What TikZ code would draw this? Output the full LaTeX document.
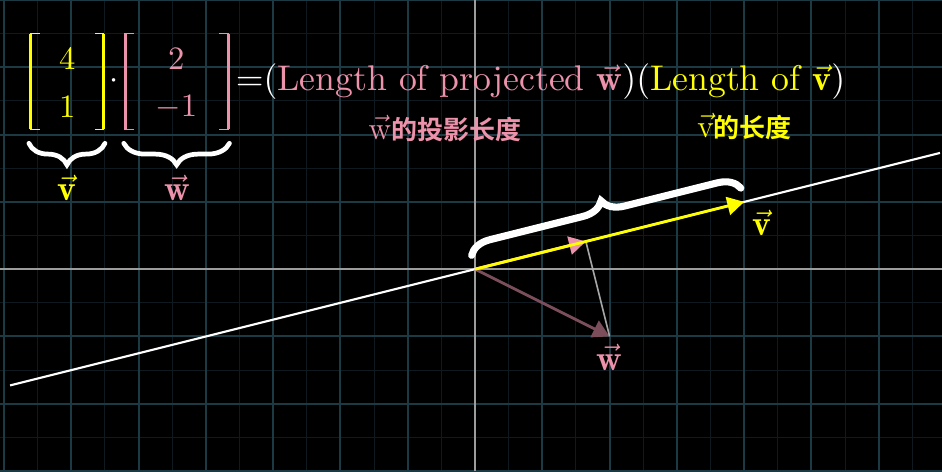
\documentclass[tikz,border=0pt]{standalone}
\usepackage{fontspec}
\usepackage{amsmath}
\usepackage{graphicx}
\usetikzlibrary{arrows.meta,decorations.pathreplacing}
\newfontfamily\cjk{Noto Sans CJK SC Bold}
\definecolor{vyellow}{HTML}{FFFF00}
\definecolor{wpink}{HTML}{EC92AB}
\definecolor{wfaded}{HTML}{7C4E5B}
\definecolor{gridmajor}{HTML}{1C3A44}
\definecolor{gridminor}{HTML}{0E1A1F}
\definecolor{axisgray}{HTML}{9C9C9C}
\definecolor{dropgray}{HTML}{A6A6A6}
\newcommand{\matnum}[1]{\scalebox{1.38}{$#1$}}
\newcommand{\bigvec}[1]{\scalebox{1.5}{$\vec{\mathbf{#1}}$}}
\tikzset{
  majorline/.style={gridmajor, line width=0.85pt},
  minorline/.style={gridminor, line width=0.45pt},
  axisline/.style={axisgray, line width=0.85pt},
  vecarrow/.style={line width=1.2pt, -{Triangle[length=0.25cm,width=0.27cm]}},
  bracketv/.style={line width=1.3pt},
  brackets/.style={line width=0.6pt},
  bracestyle/.style={white, line width=2pt, line cap=round, decorate, decoration={brace, amplitude=0.32cm}},
  tenpt/.style={font=\fontsize{10}{12}\selectfont},
  cjkfont/.style={font=\fontsize{11}{13}\selectfont}
}
\begin{document}
\begin{tikzpicture}
\fill[black] (-7.06,-3) rectangle (6.94,4);
\useasboundingbox (-7.06,-3) rectangle (6.94,4);
% grid
\foreach \x in {-6.5,-5.5,...,6.5} \draw[minorline] (\x,-3) -- (\x,4);
\foreach \y in {-2.5,-1.5,...,3.5} \draw[minorline] (-7.06,\y) -- (6.94,\y);
\foreach \x in {-7,...,6} \draw[majorline] (\x,-3) -- (\x,4);
\foreach \y in {-3,...,4} \draw[majorline] (-7.06,\y) -- (6.94,\y);
\draw[axisline] (-7.06,0) -- (6.94,0);
\draw[axisline] (0,-3) -- (0,4);
% key points
\coordinate (O) at (0,0);
\coordinate (V) at (4,1);
\coordinate (W) at (2,-1);
\coordinate (P) at (1.6471,0.4118);
\coordinate (L1) at (-6.91,-1.7275);
\coordinate (L2) at (6.91,1.7275);
\coordinate (B1) at (-0.05,0.205);
\coordinate (B2) at (3.95,1.205);
% line through v
\draw[white, line width=0.9pt] (L1) -- (L2);
% vectors
\draw[vecarrow, wfaded] (O) -- (W);
\draw[wpink, vecarrow] (O) -- (P);
\draw[dropgray, line width=0.7pt] (P) -- (W);
\draw[vecarrow, vyellow] (O) -- (V);
% brace along v
\draw[bracestyle, line width=3pt] (B1) -- (B2);
% labels
\node[tenpt, vyellow] (vlab) at (4.26,0.69) {\bigvec{v}};
\node[tenpt, wpink] (wlab) at (2.0,-1.31) {\bigvec{w}};
% matrices
\draw[vyellow, bracketv] (-6.60,3.50) -- (-6.60,2.077);
\draw[vyellow, brackets] (-6.47,3.50) -- (-6.61,3.50) (-6.47,2.077) -- (-6.61,2.077);
\draw[vyellow, bracketv] (-5.52,3.50) -- (-5.52,2.077);
\draw[vyellow, brackets] (-5.65,3.50) -- (-5.51,3.50) (-5.65,2.077) -- (-5.51,2.077);
\node[tenpt, vyellow] (m11) at (-6.06,3.13) {\matnum{4}};
\node[tenpt, vyellow] (m21) at (-6.06,2.41) {\matnum{1}};
\node[tenpt, white] (dot) at (-5.366,2.796) {\matnum{\cdot}};
\draw[wpink, bracketv] (-5.20,3.50) -- (-5.20,2.077);
\draw[wpink, brackets] (-5.07,3.50) -- (-5.21,3.50) (-5.07,2.077) -- (-5.21,2.077);
\draw[wpink, bracketv] (-3.665,3.50) -- (-3.665,2.077);
\draw[wpink, brackets] (-3.80,3.50) -- (-3.655,3.50) (-3.80,2.077) -- (-3.655,2.077);
\node[tenpt, wpink] (m12) at (-4.44,3.12) {\matnum{2}};
\node[tenpt, wpink] (m22) at (-4.44,2.41) {\matnum{-1}};
% braces under matrices
\draw[bracestyle] (-5.50,1.87) -- (-6.63,1.87);
\draw[bracestyle] (-3.65,1.87) -- (-5.22,1.87);
\node[tenpt, vyellow] (vtop) at (-6.07,1.21) {\bigvec{v}};
\node[tenpt, wpink] (wtop) at (-4.43,1.21) {\bigvec{w}};
% equation
\node[tenpt, white, anchor=base west, inner sep=0pt] (eq) at (-3.56,2.65)
  {\scalebox{1.51}{${=}($\textcolor{wpink}{Length of projected $\vec{\mathbf{w}}$}$)($\textcolor{vyellow}{Length of $\vec{\mathbf{v}}$}$)$}};
% chinese notes
\node[cjkfont, wpink, anchor=west, inner sep=0pt] (wnote) at (-1.59,2.09) {\fontsize{13.5}{13}\selectfont$\vec{\mathrm{w}}$\fontsize{11}{13}\cjk 的投影长度};
\node[cjkfont, vyellow, anchor=west, inner sep=0pt] (vnote) at (3.297,2.12) {\fontsize{13.5}{13}\selectfont$\vec{\mathrm{v}}$\fontsize{11}{13}\cjk 的长度};
\end{tikzpicture}
\end{document}
